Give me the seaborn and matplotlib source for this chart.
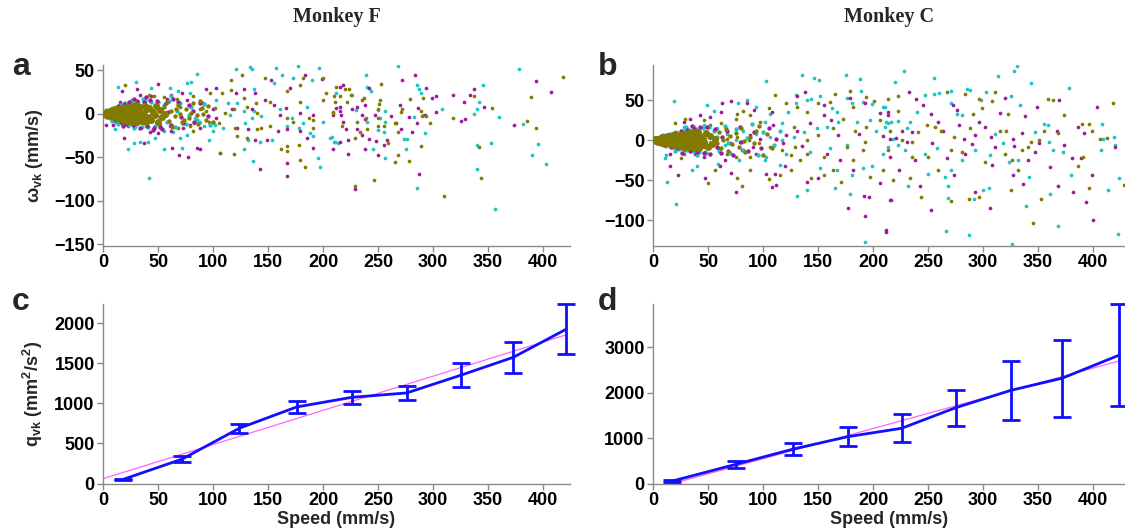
import numpy as np
import matplotlib
matplotlib.use("Agg")
import matplotlib.pyplot as plt
import seaborn as sns

# ---------------- data ----------------
# panel a (Monkey F) scatter: (speed, omega)
a_cyan = [(85,46),(121,51),(134,54),(135,51),(157,52),(177,55),(196,52),(80,36),(76,35),(30,37),(14,31),(61,30),(44,29),
          (79,24),(68,26),(137,28),(155,35),(163,44),(173,41),(190,39),(103,16),(114,12),(122,12),(137,3),(144,-3),(135,-5),
          (129,-11),(109,-16),(102,-13),(92,-14),(96,-30),(76,-24),(70,-28),(64,-21),(55,-20),(47,-28),(41,-32),(23,-40),
          (34,-32),(28,-34),(11,-18),(42,-74),(128,-40),(136,-54),(172,-5),(167,-14),(178,-16),(182,-11),(188,-22),(191,-26),
          (195,-51),(197,-61),(211,-33),(206,-28),(154,-30),(143,-32),(132,-30),(128,3),(115,-1),(100,-20),(88,-9),(84,-5),
          (55,-41),(72,-39),(161,5),(185,8),(200,-9),(212,24),
          (268,55),(239,44),(240,31),(244,26),(285,33),(287,28),(289,24),(226,22),(230,4),(240,-10),(250,4),(256,3),(252,-5),
          (256,-9),(255,-21),(250,-19),(245,-41),(256,-51),(275,-40),(274,-29),(276,-29),(283,-4),(291,-1),(293,-22),(285,-85),
          (308,5),(345,33),(342,13),(340,5),(337,0),(353,-34),(340,-36),(340,-64),(360,-4),(356,-110),(378,51),(382,-12),
          (395,-35),(390,-48),(403,-58),(208,-27),(210,-32),(214,-34)]
a_magenta = [(50,34),(31,28),(17,26),(15,14),(62,22),(72,24),(94,28),(103,29),(121,24),(128,28),(138,24),(153,39),(170,29),
             (184,45),(199,40),(215,31),(147,16),(155,10),(166,7),(179,1),(191,-1),(209,-1),(215,8),(167,-18),(159,-20),
             (149,-30),(138,-30),(132,-18),(122,-16),(103,-5),(88,-16),(79,-13),(73,-16),(62,-20),(50,-22),(43,-21),(37,-34),
             (19,-28),(9,-13),(63,-39),(69,-48),(77,-50),(85,-39),(88,-41),(106,-45),(143,-64),(167,-71),(167,-57),(191,-39),
             (209,-41),(215,-32),(185,-28),(179,-20),(161,-1),(135,5),(117,5),(100,5),(91,12),(76,16),(58,17),(44,20),(34,22),
             (26,16),(22,10),(15,1),(23,-14),(35,-11),(3,-13),
             (218,33),(212,7),(216,-2),(218,-10),(221,-17),(223,-30),(231,8),(226,5),(231,-18),(235,-2),(235,-25),(238,-6),
             (238,10),(242,30),(242,-29),(247,-1),(248,-31),(238,-41),(250,-47),(258,-30),(255,-36),(262,-3),(266,-11),(271,-18),
             (270,10),(272,39),(278,-4),(281,-21),(284,45),(285,-11),(286,7),(294,30),(293,-1),(299,18),(303,20),(303,2),
             (287,-69),(318,21),(325,-8),(329,-6),(328,14),(334,21),(337,28),(346,8),(374,-13),(394,38),(407,25),(229,-86),
             (223,-46),(215,3)]
a_olive = [(20,33),(42,22),(46,20),(55,19),(67,17),(82,20),(97,24),(108,24),(116,39),(126,45),(116,27),(128,18),(139,12),
           (147,41),(152,14),(167,26),(179,33),(182,41),(200,41),(203,24),(211,14),(119,5),(111,1),(102,7),(88,5),(82,-20),
           (79,-14),(68,-16),(61,-14),(52,-13),(40,-14),(70,8),(105,-11),(106,-45),(119,-46),(122,-26),(131,-28),(140,-18),
           (152,-14),(167,-5),(173,-9),(191,-16),(200,16),(209,1),(167,-37),(167,-43),(179,-53),(184,-61),(178,-36),(162,-41),
           (120,-16),(96,-9),(83,-11),(94,3),(131,8),(140,1),(144,-16),(179,14),(187,-5),(191,-7),
           (212,31),(220,28),(210,20),(209,2),(215,20),(222,13),(224,28),(225,22),(235,16),(237,18),(239,-5),(240,-18),
           (234,-21),(229,-28),(231,-9),(217,-14),(250,5),(252,16),(253,34),(251,11),(250,-5),(250,-14),(255,-14),(259,-34),
           (265,-11),(268,-21),(271,2),(272,6),(279,17),(289,3),(290,-3),(291,18),(294,-3),(297,-11),(289,-37),(268,-47),
           (265,-55),(278,-54),(246,-76),(229,-83),(310,-94),(318,-5),(337,20),(354,7),(342,-38),(344,-74),(385,-8),(389,19),
           (394,-16),(418,42)]
# denser low-speed region, panel a
a_cyan_mid = [(3,4),(6,-5),(9,7),(12,-9),(15,10),(17,-11),(20,12),(23,-13),(26,13),(29,-14),(32,14),(35,-15),(38,15),(41,-15),
              (44,14),(47,-14),(50,13),(10,2),(20,-5),(30,7),(40,-8),(25,15),(28,-16),(14,-12),(8,-8),(36,17),(55,10),(58,-10),
              (60,15),(65,-15),(70,12),(75,-12),(80,8),(85,-7),(52,-4),(67,3),(78,-2),(92,11),(97,-13),(62,20)]
a_magenta_mid = [(4,-4),(7,6),(11,-7),(14,9),(16,-10),(19,11),(21,-12),(24,13),(27,-13),(31,15),(34,-16),(37,14),(40,-14),
                 (43,16),(46,-16),(49,15),(52,-15),(13,3),(22,-2),(33,5),(42,-3),(18,-14),(28,17),(39,19),(45,-19),(57,12),
                 (62,-13),(68,14),(73,-11),(78,10),(83,-9),(88,12),(64,17),(54,-18),(59,2),(71,-4),(82,3),(95,-3)]
a_olive_mid = [(55,8),(60,-8),(62,3),(65,-3),(68,10),(72,-10),(75,5),(78,-5),(82,12),(86,-12),(90,7),(94,-7),(58,14),
               (63,-15),(70,0),(80,1),(85,-1),(95,9),(100,-9),(88,15),(57,-1),(66,6),(74,-7),(91,0)]
a_olive_core = [(1,0),(2,1),(3,-1),(4,2),(5,-2),(5,0),(6,3),(7,-3),(8,1),(8,-1),(9,4),(10,-4),(10,0),(11,5),(12,-5),(12,2),
                (13,-2),(14,6),(15,-6),(15,0),(16,3),(17,-3),(18,7),(18,-7),(19,1),(20,-1),(21,8),(22,-8),(22,4),(23,-4),(24,0),
                (25,9),(26,-9),(26,3),(27,-3),(28,6),(29,-6),(30,10),(30,0),(31,-10),(32,4),(33,-4),(34,8),(35,-8),(36,1),(37,-1),
                (38,9),(39,-9),(40,5),(41,-5),(42,7),(44,-7),(45,2),(47,-2),(48,9),(50,-9),(52,4),(54,-4),(56,0)]

# panel b (Monkey C) scatter
b_cyan = [(19,49),(21,-80),(13,-52),(103,74),(135,81),(146,78),(151,75),(175,82),(188,77),(189,61),(49,44),(55,37),(77,47),
          (85,50),(94,42),(102,23),(106,33),(117,21),(123,35),(130,57),(130,46),(140,50),(144,51),(152,55),(163,40),(167,35),
          (176,53),(181,47),(191,48),(199,45),(209,42),(212,23),(211,16),(203,12),(197,25),(185,23),(168,23),(158,17),(149,15),
          (137,10),(128,4),(117,0),(106,4),(94,8),(82,12),(75,0),(67,8),(58,15),(46,19),(37,17),(28,17),(12,-19),(11,-23),
          (35,-37),(40,-32),(59,-30),(78,-25),(102,-25),(115,-31),(131,-70),(140,-62),(165,-60),(179,-68),(181,-44),(191,-35),
          (199,-33),(167,-37),(152,-35),(121,-17),(143,-15),(161,-10),(176,-6),(209,-17),(214,-8),(193,-127),(103,-21),(65,-6),
          (52,-2),(34,-8),(25,-4),
          (228,87),(220,73),(255,78),(211,42),(216,23),(223,24),(234,23),(231,15),(240,35),(247,56),(255,58),(260,59),(271,62),
          (271,46),(276,33),(281,31),(285,64),(288,63),(298,50),(303,60),(314,80),(328,87),(331,93),(325,55),(334,44),(344,71),
          (347,10),(355,20),(359,19),(360,-2),(378,65),(373,-15),(364,-12),(380,-44),(408,20),(409,2),(407,-12),(419,4),(420,-6),
          (424,-48),(414,-63),(423,-117),(368,-107),(361,-68),(339,-82),(342,-46),(332,-25),(324,-27),(318,-4),(311,8),(306,-19),
          (300,-62),(305,-60),(292,-74),(287,-119),(266,-114),(268,-73),(268,-58),(265,-46),(250,-42),(232,-57),(229,-12),
          (223,-6),(218,2),(214,21),(247,-17),(258,-10),(271,-37),(281,-25),(293,-12),(326,-130)]
b_magenta = [(63,46),(71,49),(62,35),(52,29),(43,31),(34,27),(28,23),(85,46),(92,38),(108,35),(131,55),(138,60),(155,44),
             (162,25),(179,53),(193,47),(206,34),(214,31),(155,32),(143,21),(131,12),(121,6),(109,19),(97,2),(88,6),(79,-2),
             (70,-4),(59,-10),(47,-15),(38,-17),(26,-10),(15,-17),(23,-44),(15,-33),(47,-47),(75,-65),(71,-41),(103,-42),
             (111,-42),(108,-59),(112,-56),(140,-52),(150,-48),(177,-85),(193,-95),(192,-70),(196,-71),(212,-115),(215,-75),
             (206,-54),(182,-37),(170,-25),(158,-17),(135,-7),(118,-4),(94,-17),(81,-12),(65,-25),(46,-21),(35,-4),(168,7),
             (187,8),(209,5),(61,-33),(91,-8),(120,-33),
             (233,60),(239,51),(214,35),(215,1),(215,-21),(221,3),(226,12),(231,-2),(235,10),(238,-25),(245,44),(253,33),(254,-4),
             (259,23),(264,12),(273,44),(276,38),(278,19),(283,2),(290,-5),(293,6),(296,23),(302,17),(307,4),(311,-8),(315,34),
             (320,53),(327,2),(328,-7),(335,9),(338,30),(341,-25),(349,42),(351,-4),(361,-34),(367,11),(369,50),(381,-23),(386,17),
             (389,-23),(392,9),(404,41),(399,-44),(394,-77),(400,-100),(382,-65),(368,-58),(336,-55),(327,-44),(308,-31),(306,-85),
             (293,-65),(274,-44),(253,-88),(243,-57),(216,-75),(212,-113),(224,-37),(420,-9),(284,-17),(267,-23),(347,-15),
             (374,-6)]
b_olive = [(20,21),(29,26),(46,25),(52,19),(62,21),(75,27),(76,33),(82,37),(88,31),(97,23),(105,40),(111,56),(121,47),(131,42),
           (140,35),(150,46),(161,48),(165,58),(179,62),(182,42),(194,54),(201,49),(206,25),(194,17),(184,12),(173,27),(164,15),
           (150,6),(140,0),(129,-8),(117,-12),(106,-8),(96,-4),(87,0),(76,4),(67,2),(56,-4),(46,-8),(37,-10),(28,-17),(25,-23),
           (50,-54),(56,-37),(76,-48),(81,-57),(88,-37),(105,-49),(115,-44),(125,-37),(134,-25),(144,-48),(155,-44),(164,-37),
           (171,-52),(182,-25),(191,-12),(197,-46),(209,-37),(214,-12),(193,-2),(176,-8),(128,17),(67,-17),(75,-21),(88,-21),
           (125,-19),(155,-21),(140,-17),
           (223,55),(214,52),(223,37),(215,12),(226,0),(235,-2),(241,10),(249,19),(256,17),(262,11),(267,60),(274,4),(284,58),
           (288,15),(291,33),(296,52),(299,40),(308,49),(311,60),(323,33),(315,12),(321,12),(326,-25),(332,-37),(325,-62),
           (341,-8),(344,-2),(351,0),(355,12),(359,52),(364,50),(368,9),(374,31),(390,20),(396,20),(399,12),(406,2),(413,3),
           (418,47),(396,-60),(386,-33),(391,-21),(353,-74),(345,-104),(320,-17),(302,-27),(296,-71),(287,-74),(271,-76),
           (259,-37),(250,-21),(244,-71),(234,-47),(218,-50),(235,-21),(271,-12),(281,-15),(335,-12),(428,-56)]
# denser low-speed region, panel b
b_cyan_mid = [(3,3),(6,-4),(9,6),(12,-7),(15,8),(18,-9),(21,10),(24,-11),(27,12),(30,-12),(33,13),(36,-14),(39,14),(42,-15),
              (45,15),(48,-16),(51,16),(12,1),(24,-2),(36,4),(48,-5),(55,12),(60,-14),(65,18),(70,-16),(75,14),(82,-12),
              (90,20),(95,-18),(100,10),(30,17),(40,-19),(20,-13),(58,4),(85,3),(68,-3),(110,-6),(115,12)]
b_magenta_mid = [(4,-3),(7,5),(10,-6),(13,7),(16,-8),(19,9),(22,-10),(25,11),(28,-11),(31,13),(34,-13),(37,14),(40,-15),
                 (43,16),(46,-16),(49,17),(52,-17),(18,2),(28,-1),(38,3),(47,-4),(56,14),(62,-16),(67,12),(73,-18),(79,16),
                 (86,-14),(92,10),(98,-10),(105,15),(26,-16),(35,18),(58,-8),(80,-2),(63,4),(112,2)]
b_olive_mid = [(58,-3),(60,10),(62,-10),(64,0),(66,14),(68,-14),(70,5),(72,-5),(75,9),(78,-9),(80,15),(84,-15),(88,4),
               (92,-4),(96,18),(100,-18),(104,8),(108,-10),(83,-1),(94,12)]
b_olive_core = [(1,0),(2,1),(3,-1),(4,2),(5,-2),(6,0),(7,3),(8,-3),(9,1),(10,-1),(11,4),(12,-4),(13,0),(14,5),(15,-5),(16,2),
                (17,-2),(18,6),(19,-6),(20,0),(21,3),(22,-3),(23,7),(24,-7),(25,1),(26,-1),(27,8),(28,-8),(29,4),(30,-4),(31,0),
                (32,9),(33,-9),(34,3),(35,-3),(36,10),(37,-10),(38,6),(39,-6),(40,0),(41,10),(42,-10),(43,5),(44,-5),(45,2),
                (46,-2),(48,9),(50,-9),(52,5),(54,-5),(56,1)]

# panels c, d: binned second moment vs speed
c_speed = [18, 72, 124, 176, 226, 276, 325, 373, 421]
c_q = [50, 305, 690, 955, 1075, 1130, 1350, 1575, 1925]
c_err = [12, 40, 55, 75, 80, 90, 150, 190, 315]
c_fit_x = [0, 421]
c_fit_y = [60, 1855]

d_speed = [17, 75, 127, 177, 226, 275, 325, 372, 424]
d_q = [50, 420, 755, 1030, 1215, 1667, 2048, 2318, 2827]
d_err = [20, 70, 135, 215, 310, 400, 640, 850, 1120]
d_fit_x = [18, 424]
d_fit_y = [0, 2700]

titles = ["Monkey F", "Monkey C"]
panel_letters = ["a", "b", "c", "d"]

# ---------------- style ----------------
sns.set_style("ticks")
plt.rcParams["font.family"] = ["Liberation Sans", "DejaVu Sans"]
plt.rcParams["font.weight"] = "bold"
plt.rcParams["mathtext.fontset"] = "custom"
plt.rcParams["mathtext.rm"] = "Liberation Sans:bold"
plt.rcParams["mathtext.bf"] = "Liberation Sans:bold"
plt.rcParams["mathtext.it"] = "Liberation Sans"
plt.rcParams["mathtext.sf"] = "Liberation Sans:bold"

CYAN = "#1cc6c6"
MAG = "#9c1c9c"
OLIVE = "#837a00"
BLUE = "#1010ff"
PINK = "#ff66ff"
GREY = "#8a8a8a"

W, H = 1125, 531
fig = plt.figure(figsize=(W / 100, H / 100), dpi=100)

def add_ax(x0, x1, y0, y1):
    return fig.add_axes([x0 / W, 1 - y1 / H, (x1 - x0) / W, (y1 - y0) / H])

axa = add_ax(103, 570, 65, 246)
axb = add_ax(653, 1125, 65, 246)
axc = add_ax(103, 570, 304, 483.5)
axd = add_ax(653, 1125, 304, 483.5)

def scatter(ax, pts, color, s):
    arr = np.array(pts, dtype=float)
    sns.scatterplot(x=arr[:, 0], y=arr[:, 1], color=color, s=s, linewidth=0, ax=ax, legend=False, zorder=3)

for ax, sparse_sets, mid_sets, core in [
        (axa, [(a_cyan, CYAN), (a_magenta, MAG), (a_olive, OLIVE)],
              [(a_cyan_mid, CYAN), (a_magenta_mid, MAG), (a_olive_mid, OLIVE)], a_olive_core),
        (axb, [(b_cyan, CYAN), (b_magenta, MAG), (b_olive, OLIVE)],
              [(b_cyan_mid, CYAN), (b_magenta_mid, MAG), (b_olive_mid, OLIVE)], b_olive_core)]:
    for pts, col in sparse_sets:
        scatter(ax, pts, col, 7)
    for pts, col in mid_sets:
        scatter(ax, pts, col, 10)
    scatter(ax, core, OLIVE, 26)

def moment(ax, sx, q, err, fx, fy):
    sns.lineplot(x=fx, y=fy, color=PINK, linewidth=0.9, ax=ax, zorder=2)
    sns.lineplot(x=sx, y=q, color=BLUE, linewidth=2.0, ax=ax, zorder=3)
    ax.errorbar(sx, q, yerr=err, fmt="none", ecolor=BLUE, elinewidth=2.0, capsize=6.5, capthick=2.0,
                zorder=4, clip_on=False)

moment(axc, c_speed, c_q, c_err, c_fit_x, c_fit_y)
moment(axd, d_speed, d_q, d_err, d_fit_x, d_fit_y)

axa.set_xlim(0, 424.5); axa.set_ylim(-152, 56)
axb.set_xlim(0, 429); axb.set_ylim(-132.5, 94)
axc.set_xlim(0, 424.5); axc.set_ylim(0, 2240)
axd.set_xlim(0, 429); axd.set_ylim(0, 3950)

axa.set_yticks([-150, -100, -50, 0, 50])
axb.set_yticks([-100, -50, 0, 50])
axc.set_yticks([0, 500, 1000, 1500, 2000])
axd.set_yticks([0, 1000, 2000, 3000])

for ax in (axa, axb, axc, axd):
    ax.set_xticks(range(0, 401, 50))
    for side in ("top", "right"):
        ax.spines[side].set_visible(False)
    for side in ("left", "bottom"):
        ax.spines[side].set_color(GREY)
        ax.spines[side].set_linewidth(1.0)
    ax.tick_params(direction="out", length=4, width=1, color=GREY, labelcolor="black", labelsize=13, pad=2)
    for lab in ax.get_xticklabels() + ax.get_yticklabels():
        lab.set_fontweight("bold")
    ax.set_facecolor("white")

axa.set_ylabel(r"$\omega_{\mathbf{vk}}$ (mm/s)", fontsize=13, fontweight="bold")
axa.yaxis.set_label_coords(-0.125, 0.5)
axc.set_ylabel(r"$\mathbf{q_{vk}}$ (mm$^{\mathbf{2}}$/s$^{\mathbf{2}}$)", fontsize=13, fontweight="bold")
axc.yaxis.set_label_coords(-0.125, 0.5)
axc.set_xlabel("Speed (mm/s)", fontsize=13, fontweight="bold")
axd.set_xlabel("Speed (mm/s)", fontsize=13, fontweight="bold")
axc.xaxis.set_label_coords(0.5, -0.155)
axd.xaxis.set_label_coords(0.5, -0.155)

fig.text((103 + 570) / 2 / W, 1 - 17 / H, titles[0], family="Liberation Serif", fontweight="bold",
         fontsize=14.5, ha="center", va="center")
fig.text((653 + 1125) / 2 / W, 1 - 17 / H, titles[1], family="Liberation Serif", fontweight="bold",
         fontsize=14.5, ha="center", va="center")

for letter, (px, py) in zip(panel_letters, [(12, 75), (598, 75), (12, 310), (598, 310)]):
    fig.text(px / W, 1 - py / H, letter, fontsize=23, fontweight="bold", ha="left", va="baseline")

fig.savefig("out.png", dpi=100, facecolor="white")
